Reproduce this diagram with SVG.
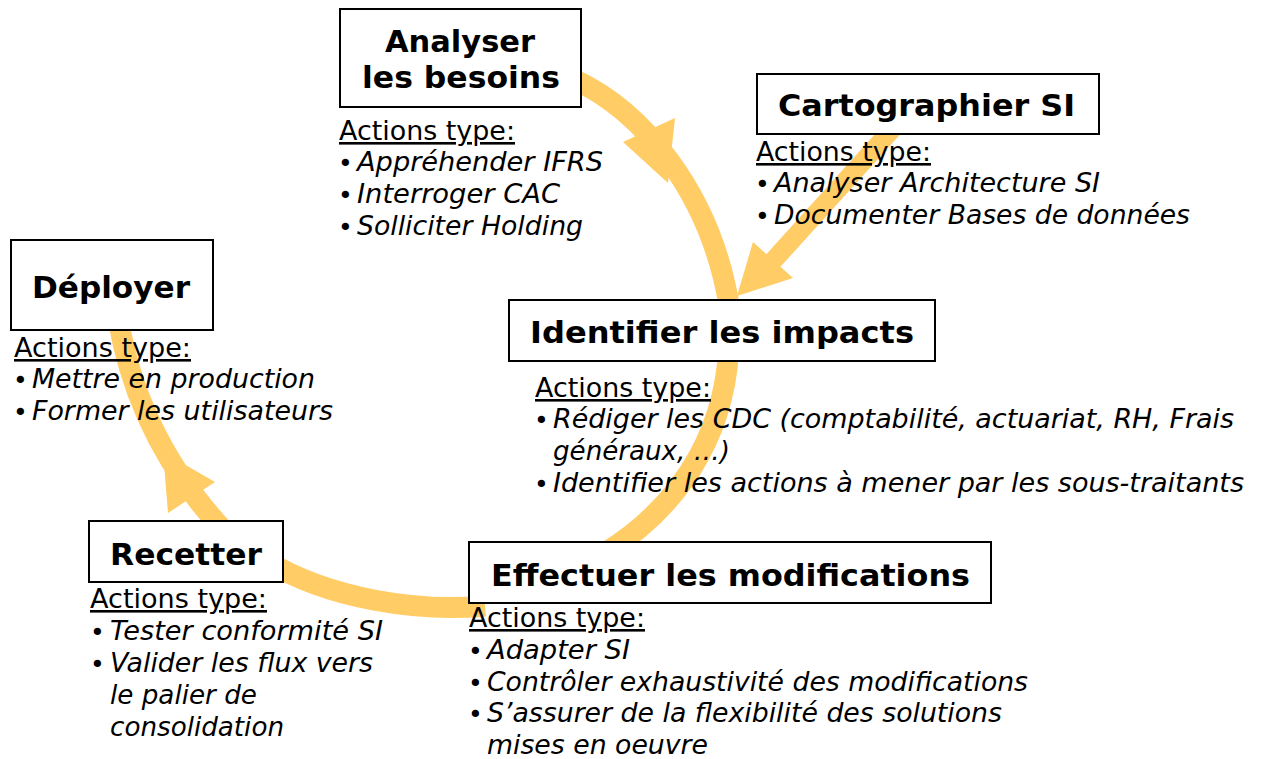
<svg xmlns="http://www.w3.org/2000/svg" width="1263" height="759" viewBox="0 0 1263 759">
<style>
.band{fill:none;stroke:#FFCC66;stroke-width:21;}
.head{fill:#FFCC66;stroke:none;}
.box{fill:#ffffff;stroke:#000000;stroke-width:2;}
.title{font-family:"DejaVu Sans",Verdana,sans-serif;font-weight:bold;font-size:31px;fill:#000;}
.hdr{font-family:"DejaVu Sans",Verdana,sans-serif;font-size:26px;fill:#000;text-decoration:underline;}
.item{font-family:"DejaVu Sans",Verdana,sans-serif;font-style:italic;font-size:26px;fill:#000;}
.bul{font-family:"DejaVu Sans",Verdana,sans-serif;font-size:25px;fill:#000;}
</style>
<rect width="1263" height="759" fill="#ffffff"/>
<g id="connectors">
  <path class="band" d="M575,80 C640,110 710,190 729,305"/>
  <polygon class="head" points="623,142 675,118 668,183"/>
  <path class="band" d="M729,335 C729,420 690,500 605,553"/>
  <path class="band" d="M485,606 C420,612 330,600 265,560"/>
  <path class="band" d="M228,535 C185,490 135,420 118,318"/>
  <polygon class="head" points="168,513 215,482 163,452"/>
  <path class="band" style="stroke-width:19" d="M905,115 L772,262"/>
  <polygon class="head" points="753,242 793,278 737,296"/>
</g>
<g id="analyser">
  <rect class="box" x="340" y="9" width="241" height="98"/>
  <text class="title" x="385" y="52" textLength="150" lengthAdjust="spacingAndGlyphs">Analyser</text>
  <text class="title" x="362" y="88" textLength="198" lengthAdjust="spacingAndGlyphs">les besoins</text>
  <text class="hdr" x="339" y="140" textLength="176" lengthAdjust="spacingAndGlyphs">Actions type:</text>
  <text class="bul" x="338" y="172">•</text><text class="item" x="357" y="171" textLength="246" lengthAdjust="spacingAndGlyphs">Appréhender IFRS</text>
  <text class="bul" x="338" y="204">•</text><text class="item" x="357" y="203" textLength="203" lengthAdjust="spacingAndGlyphs">Interroger CAC</text>
  <text class="bul" x="338" y="236">•</text><text class="item" x="357" y="235" textLength="226" lengthAdjust="spacingAndGlyphs">Solliciter Holding</text>
</g>
<g id="cartographier">
  <rect class="box" x="757" y="74" width="342" height="60"/>
  <text class="title" x="778" y="116" textLength="297" lengthAdjust="spacingAndGlyphs">Cartographier SI</text>
  <text class="hdr" x="756" y="161" textLength="175" lengthAdjust="spacingAndGlyphs">Actions type:</text>
  <text class="bul" x="755" y="193">•</text><text class="item" x="774" y="192" textLength="326" lengthAdjust="spacingAndGlyphs">Analyser Architecture SI</text>
  <text class="bul" x="755" y="225">•</text><text class="item" x="774" y="224" textLength="416" lengthAdjust="spacingAndGlyphs">Documenter Bases de données</text>
</g>
<g id="deployer">
  <rect class="box" x="11" y="240" width="202" height="90"/>
  <text class="title" x="32" y="298" textLength="158" lengthAdjust="spacingAndGlyphs">Déployer</text>
  <text class="hdr" x="14" y="357" textLength="177" lengthAdjust="spacingAndGlyphs">Actions type:</text>
  <text class="bul" x="13" y="389">•</text><text class="item" x="32" y="388" textLength="283" lengthAdjust="spacingAndGlyphs">Mettre en production</text>
  <text class="bul" x="13" y="421">•</text><text class="item" x="32" y="420" textLength="301" lengthAdjust="spacingAndGlyphs">Former les utilisateurs</text>
</g>
<g id="identifier">
  <rect class="box" x="509" y="300" width="426" height="61"/>
  <text class="title" x="530" y="343" textLength="384" lengthAdjust="spacingAndGlyphs">Identifier les impacts</text>
  <text class="hdr" x="535" y="397" textLength="176" lengthAdjust="spacingAndGlyphs">Actions type:</text>
  <text class="bul" x="534" y="429">•</text><text class="item" x="553" y="428" textLength="681" lengthAdjust="spacingAndGlyphs">Rédiger les CDC (comptabilité, actuariat, RH, Frais</text>
  <text class="item" x="553" y="460" textLength="177" lengthAdjust="spacingAndGlyphs">généraux, …)</text>
  <text class="bul" x="534" y="493">•</text><text class="item" x="553" y="492" textLength="691" lengthAdjust="spacingAndGlyphs">Identifier les actions à mener par les sous-traitants</text>
</g>
<g id="recetter">
  <rect class="box" x="89" y="521" width="194" height="61"/>
  <text class="title" x="110" y="565" textLength="152" lengthAdjust="spacingAndGlyphs">Recetter</text>
  <text class="hdr" x="90" y="608" textLength="177" lengthAdjust="spacingAndGlyphs">Actions type:</text>
  <text class="bul" x="90" y="641">•</text><text class="item" x="110" y="640" textLength="273" lengthAdjust="spacingAndGlyphs">Tester conformité SI</text>
  <text class="bul" x="90" y="673">•</text><text class="item" x="110" y="672" textLength="263" lengthAdjust="spacingAndGlyphs">Valider les flux vers</text>
  <text class="item" x="110" y="704" textLength="147" lengthAdjust="spacingAndGlyphs">le palier de</text>
  <text class="item" x="110" y="736" textLength="174" lengthAdjust="spacingAndGlyphs">consolidation</text>
</g>
<g id="effectuer">
  <rect class="box" x="469" y="542" width="522" height="61"/>
  <text class="title" x="491" y="586" textLength="479" lengthAdjust="spacingAndGlyphs">Effectuer les modifications</text>
  <text class="hdr" x="469" y="627" textLength="176" lengthAdjust="spacingAndGlyphs">Actions type:</text>
  <text class="bul" x="468" y="660">•</text><text class="item" x="487" y="659" textLength="143" lengthAdjust="spacingAndGlyphs">Adapter SI</text>
  <text class="bul" x="468" y="692">•</text><text class="item" x="487" y="691" textLength="541" lengthAdjust="spacingAndGlyphs">Contrôler exhaustivité des modifications</text>
  <text class="bul" x="468" y="723">•</text><text class="item" x="487" y="722" textLength="515" lengthAdjust="spacingAndGlyphs">S’assurer de la flexibilité des solutions</text>
  <text class="item" x="487" y="754" textLength="221" lengthAdjust="spacingAndGlyphs">mises en oeuvre</text>
</g>
</svg>
